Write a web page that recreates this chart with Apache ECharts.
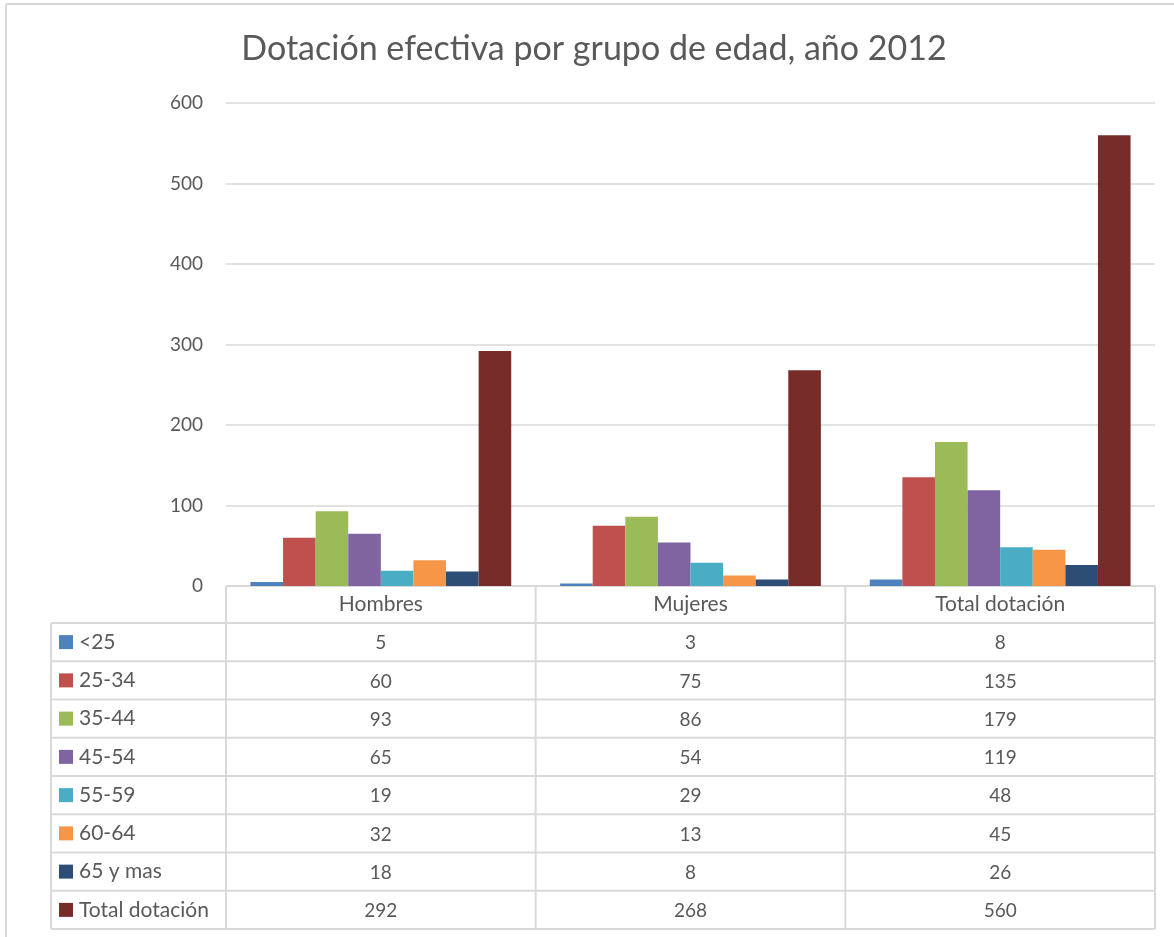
<!DOCTYPE html>
<html>
<head>
<meta charset="utf-8">
<script src="https://cdn.jsdelivr.net/npm/echarts@6/dist/echarts.min.js"></script>
<style>
html,body{margin:0;padding:0;background:#fff;}
#chart{width:1174px;height:937px;}
</style>
</head>
<body>
<div id="chart"></div>
<script>
// ---- data ----
const categories = ['Hombres', 'Mujeres', 'Total dotación'];
const seriesNames = ['<25', '25-34', '35-44', '45-54', '55-59', '60-64', '65 y mas', 'Total dotación'];
const vLt25 = [5, 3, 8];
const v25_34 = [60, 75, 135];
const v35_44 = [93, 86, 179];
const v45_54 = [65, 54, 119];
const v55_59 = [19, 29, 48];
const v60_64 = [32, 13, 45];
const v65mas = [18, 8, 26];
const vTotal = [292, 268, 560];
const yTicks = [0, 100, 200, 300, 400, 500, 600];
const titleText = 'Dotación efectiva por grupo de edad, año 2012';

// ---- styles / layout ----
const seriesValues = [vLt25, v25_34, v35_44, v45_54, v55_59, v60_64, v65mas, vTotal];
const colors = ['#4F81BD', '#C0504D', '#9BBB59', '#8064A2', '#4BACC6', '#F79646', '#2C4D75', '#772C2A'];
const FONT = 'Lato, "Open Sans", sans-serif';
const TEXT_COLOR = '#595959';
const LINE_COLOR = '#d9d9d9';
const W = 1174, H = 937;
const GRID_LEFT = 226, GRID_RIGHT = 19, GRID_TOP = 103, GRID_BOTTOM = 351;
const TABLE_LEFT = 51;
const HEADER_H = 37;
const ROW_H = 38.25;
const WORD_FONT = '21px ' + FONT;
const NUM_FONT = '19px ' + FONT;

const axisY = H - GRID_BOTTOM;
const plotRight = W - GRID_RIGHT;
const colW = (plotRight - GRID_LEFT) / categories.length;

const chart = echarts.init(document.getElementById('chart'), null, {renderer: 'canvas'});

const graphics = [];
// outer chart border (top and left)
graphics.push({type: 'line', shape: {x1: 6, y1: 4, x2: W, y2: 4}, style: {stroke: LINE_COLOR, lineWidth: 2}, silent: true});
graphics.push({type: 'line', shape: {x1: 6, y1: 4, x2: 6, y2: H}, style: {stroke: LINE_COLOR, lineWidth: 2}, silent: true});

const headerBottom = axisY + HEADER_H;
const tableBottom = headerBottom + ROW_H * seriesNames.length;
// horizontal lines
graphics.push({type: 'line', shape: {x1: GRID_LEFT, y1: axisY, x2: plotRight, y2: axisY}, style: {stroke: LINE_COLOR, lineWidth: 2}, silent: true});
for (let i = 0; i <= seriesNames.length; i++) {
  const y = headerBottom + i * ROW_H;
  graphics.push({type: 'line', shape: {x1: TABLE_LEFT, y1: y, x2: plotRight, y2: y}, style: {stroke: LINE_COLOR, lineWidth: 2}, silent: true});
}
// vertical lines
graphics.push({type: 'line', shape: {x1: TABLE_LEFT, y1: headerBottom, x2: TABLE_LEFT, y2: tableBottom}, style: {stroke: LINE_COLOR, lineWidth: 2}, silent: true});
for (let c = 0; c <= categories.length; c++) {
  const x = GRID_LEFT + c * colW;
  graphics.push({type: 'line', shape: {x1: x, y1: axisY, x2: x, y2: tableBottom}, style: {stroke: LINE_COLOR, lineWidth: 2}, silent: true});
}
// header texts
categories.forEach((cat, c) => {
  graphics.push({type: 'text', x: GRID_LEFT + (c + 0.5) * colW, y: axisY + HEADER_H / 2,
    style: {text: cat, fill: TEXT_COLOR, font: WORD_FONT, textAlign: 'center', textVerticalAlign: 'middle'}, silent: true});
});
// rows
seriesNames.forEach((name, r) => {
  const cy = headerBottom + (r + 0.5) * ROW_H;
  graphics.push({type: 'rect', shape: {x: TABLE_LEFT + 8, y: cy - 7, width: 14, height: 14}, style: {fill: colors[r]}, silent: true});
  graphics.push({type: 'text', x: TABLE_LEFT + 28, y: cy,
    style: {text: name, fill: TEXT_COLOR, font: WORD_FONT, textAlign: 'left', textVerticalAlign: 'middle'}, silent: true});
  seriesValues[r].forEach((v, c) => {
    graphics.push({type: 'text', x: GRID_LEFT + (c + 0.5) * colW, y: cy + 1,
      style: {text: String(v), fill: TEXT_COLOR, font: NUM_FONT, textAlign: 'center', textVerticalAlign: 'middle'}, silent: true});
  });
});

const option = {
  animation: false,
  backgroundColor: '#ffffff',
  title: {
    text: titleText,
    left: 589,
    textAlign: 'center',
    top: 27,
    textStyle: {fontFamily: FONT, fontSize: 34, fontWeight: 'normal', color: TEXT_COLOR}
  },
  grid: {left: GRID_LEFT, right: GRID_RIGHT, top: GRID_TOP, bottom: GRID_BOTTOM, containLabel: false},
  xAxis: {
    type: 'category',
    data: categories,
    axisLine: {show: false},
    axisTick: {show: false},
    axisLabel: {show: false},
    splitLine: {show: false}
  },
  yAxis: {
    type: 'value',
    min: yTicks[0],
    max: yTicks[yTicks.length - 1],
    interval: yTicks[1] - yTicks[0],
    axisLine: {show: false},
    axisTick: {show: false},
    axisLabel: {fontFamily: FONT, fontSize: 19, color: TEXT_COLOR, margin: 23},
    splitLine: {lineStyle: {color: LINE_COLOR, width: 1.5}}
  },
  series: seriesNames.map((name, i) => ({
    name: name,
    type: 'bar',
    data: seriesValues[i],
    barGap: '0%',
    barCategoryGap: '15.79%',
    itemStyle: {color: colors[i]}
  })),
  graphic: graphics
};
chart.setOption(option);
</script>
</body>
</html>
